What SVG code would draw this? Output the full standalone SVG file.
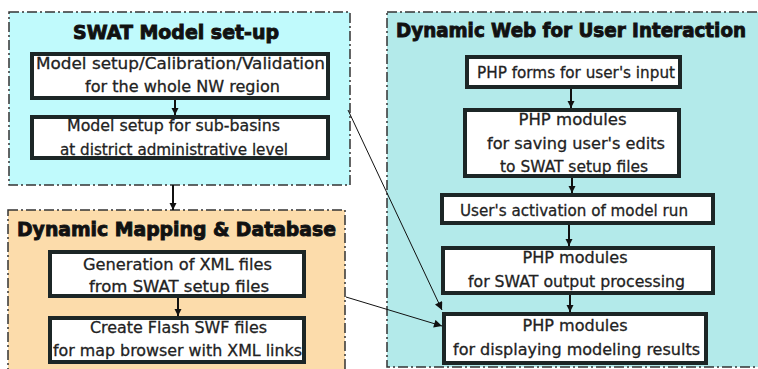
<svg xmlns="http://www.w3.org/2000/svg" width="758" height="369" viewBox="0 0 758 369">
<defs>
<style>
.cont{stroke:#333;stroke-width:1.5;stroke-dasharray:10 3 2 3}
.box{fill:#fff;stroke:#1c2626;stroke-width:4}
.t{font-family:"DejaVu Sans",sans-serif;font-size:16px;fill:#222;stroke:#222;stroke-width:0.3;text-anchor:middle}
.h{font-family:"DejaVu Sans",sans-serif;font-size:19px;font-weight:bold;fill:#111;stroke:#111;stroke-width:0.9}
.c{stroke:#111;stroke-width:2;fill:none}
.d{stroke:#111;stroke-width:1;fill:none}
</style>
<marker id="ah" viewBox="0 0 10 10" refX="10" refY="5" markerWidth="7" markerHeight="8" markerUnits="userSpaceOnUse" orient="auto"><path d="M0,0 L10,5 L0,10 z" fill="#111"/></marker>
<marker id="ah2" viewBox="0 0 10 10" refX="10" refY="5" markerWidth="10" markerHeight="8" markerUnits="userSpaceOnUse" orient="auto"><path d="M0,0 L10,5 L0,10 z" fill="#111"/></marker>
</defs>
<rect width="758" height="369" fill="#fff"/>

<g id="swat">
<rect class="cont" x="9" y="12" width="341" height="173" fill="#c0fafc"/>
<text class="h" x="176" y="39" text-anchor="middle" textLength="206" lengthAdjust="spacingAndGlyphs">SWAT Model set-up</text>
</g>
<g id="web">
<rect class="cont" x="387" y="12" width="400" height="355" fill="#b3eaea"/>
<text class="h" x="396" y="37" textLength="350" lengthAdjust="spacingAndGlyphs">Dynamic Web for User Interaction</text>
</g>
<g id="mapping">
<rect class="cont" x="8" y="210" width="337" height="170" fill="#fcdcab"/>
<text class="h" x="176.5" y="236" text-anchor="middle" textLength="319" lengthAdjust="spacingAndGlyphs">Dynamic Mapping &amp; Database</text>
</g>

<g id="b1">
<rect class="box" x="32" y="54" width="296" height="44"/>
<text class="t" x="180.5" y="69" textLength="289" lengthAdjust="spacingAndGlyphs">Model setup/Calibration/Validation</text>
<text class="t" x="182.5" y="92" textLength="195" lengthAdjust="spacingAndGlyphs">for the whole NW region</text>
</g>
<g id="b2">
<rect class="box" x="32" y="117" width="296" height="41"/>
<text class="t" x="173.5" y="131" textLength="213" lengthAdjust="spacingAndGlyphs">Model setup for sub-basins</text>
<text class="t" x="174" y="155" textLength="228" lengthAdjust="spacingAndGlyphs">at district administrative level</text>
</g>
<g id="m1">
<rect class="box" x="50" y="252" width="254" height="44"/>
<text class="t" x="177.5" y="270" textLength="189" lengthAdjust="spacingAndGlyphs">Generation of XML files</text>
<text class="t" x="179" y="292" textLength="180" lengthAdjust="spacingAndGlyphs">from SWAT setup files</text>
</g>
<g id="m2">
<rect class="box" x="50" y="318" width="254" height="44"/>
<text class="t" x="178.5" y="333" textLength="177" lengthAdjust="spacingAndGlyphs">Create Flash SWF files</text>
<text class="t" x="177.5" y="356" textLength="249" lengthAdjust="spacingAndGlyphs">for map browser with XML links</text>
</g>

<g id="f">
<rect class="box" x="467" y="57" width="213" height="30"/>
<text class="t" x="576" y="78" textLength="198" lengthAdjust="spacingAndGlyphs">PHP forms for user's input</text>
</g>
<g id="s">
<rect class="box" x="465" y="110" width="214" height="66"/>
<text class="t" x="572.5" y="125" textLength="108" lengthAdjust="spacingAndGlyphs">PHP modules</text>
<text class="t" x="576" y="149" textLength="178" lengthAdjust="spacingAndGlyphs">for saving user's edits</text>
<text class="t" x="574" y="172" textLength="148" lengthAdjust="spacingAndGlyphs">to SWAT setup files</text>
</g>
<g id="a">
<rect class="box" x="442" y="195" width="271" height="28"/>
<text class="t" x="574" y="216" textLength="228" lengthAdjust="spacingAndGlyphs">User's activation of model run</text>
</g>
<g id="o">
<rect class="box" x="443" y="248" width="270" height="45"/>
<text class="t" x="575" y="263" textLength="105" lengthAdjust="spacingAndGlyphs">PHP modules</text>
<text class="t" x="576.5" y="287" textLength="217" lengthAdjust="spacingAndGlyphs">for SWAT output processing</text>
</g>
<g id="dsp">
<rect class="box" x="444" y="314" width="262" height="49"/>
<text class="t" x="575" y="331" textLength="105" lengthAdjust="spacingAndGlyphs">PHP modules</text>
<text class="t" x="576.5" y="355" textLength="247" lengthAdjust="spacingAndGlyphs">for displaying modeling results</text>
</g>

<g id="connectors">
<line class="c" x1="175" y1="100" x2="175" y2="115" marker-end="url(#ah)"/>
<line class="c" x1="173" y1="185" x2="173" y2="210" marker-end="url(#ah)"/>
<line class="c" x1="178" y1="298" x2="178" y2="316" marker-end="url(#ah)"/>
<line class="c" x1="571" y1="89" x2="571" y2="108" marker-end="url(#ah)"/>
<line class="c" x1="572" y1="178" x2="572" y2="193" marker-end="url(#ah)"/>
<line class="c" x1="569" y1="225" x2="569" y2="246" marker-end="url(#ah)"/>
<line class="c" x1="570" y1="295" x2="570" y2="312" marker-end="url(#ah)"/>
<line class="d" x1="348" y1="110" x2="442" y2="310" marker-end="url(#ah2)"/>
<line class="d" x1="346" y1="297" x2="442" y2="326" marker-end="url(#ah2)"/>
</g>
</svg>
